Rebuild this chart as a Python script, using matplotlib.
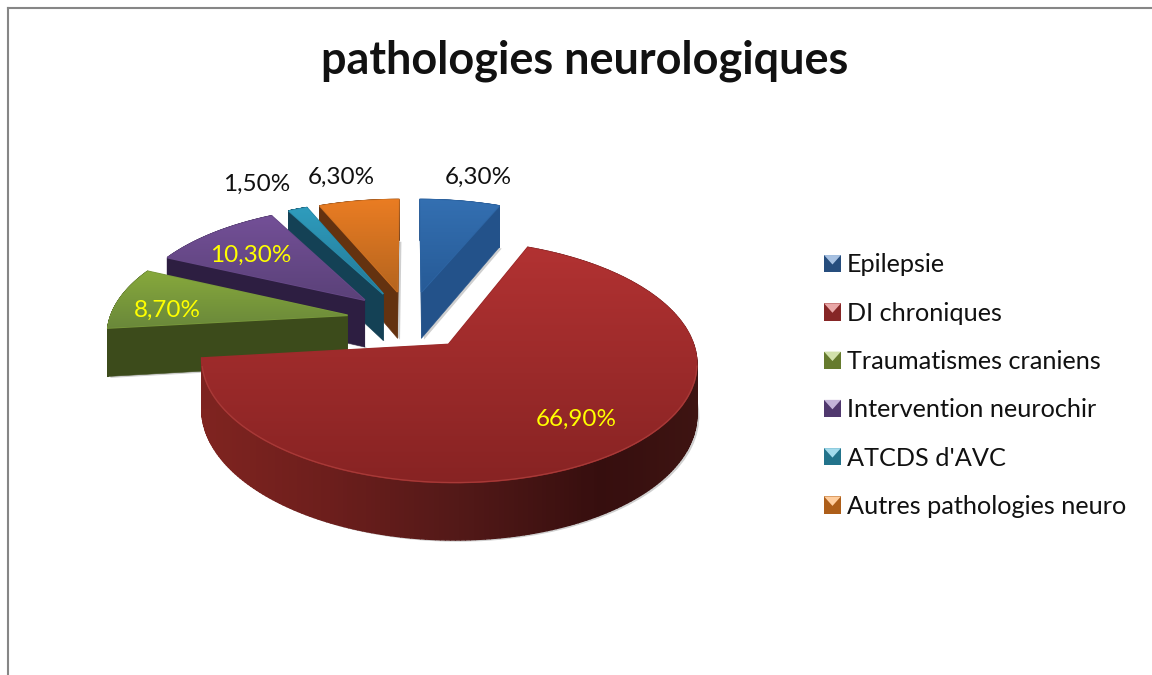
import numpy as np
import matplotlib
matplotlib.use("Agg")
import matplotlib.pyplot as plt
from matplotlib.collections import PolyCollection
from matplotlib.colors import to_rgb
from matplotlib.legend_handler import HandlerBase
from matplotlib.patches import PathPatch, Patch, Rectangle, Polygon
from matplotlib.transforms import Transform

# ---- data ----
title = "pathologies neurologiques"
categories = ["Epilepsie", "DI chroniques", "Traumatismes craniens",
              "Intervention neurochir", "ATCDS d'AVC", "Autres pathologies neuro"]
values = [6.3, 66.9, 8.7, 10.3, 1.5, 6.3]
value_labels = ["6,30%", "66,90%", "8,70%", "10,30%", "1,50%", "6,30%"]

# ---- style ----
label_colors = ["#111111", "#ffff00", "#ffff00", "#ffff00", "#111111", "#111111"]
label_xy = [(478, 177), (576, 419), (167, 310), (251, 255), (257, 184), (341, 177)]
top_hi = ["#3470b2", "#b23232", "#88aa3c", "#745098", "#2f9dbe", "#eb7d23"]
top_lo = ["#265a96", "#872323", "#69873a", "#5a4178", "#237896", "#b4641e"]
side = ["#23528a", "#7d2320", "#3c4b1b", "#2d1e41", "#144155", "#643210"]
legend_colors = ["#30609c", "#a83030", "#7f9a3a", "#64468a", "#2a90ae", "#d8761f"]
draw_order = [0, 5, 4, 3, 2, 1]
explode = [0.265] * 6
RX, RY, TILT, DEPTH = 238.0, 112.0, 0.136, 48.0
CX, CY = 409.5, 320.0
FONT = "Lato"


class Proj(Transform):
    """Perspective view of the pie plane; z=1 is the underside of the disc."""
    input_dims = output_dims = 2
    is_affine = False
    has_inverse = False

    def __init__(self, z=0.0, dx=0.0):
        super().__init__()
        self.z, self.dx = z, dx

    def transform_non_affine(self, values):
        values = np.asarray(values, float)
        u, v = values[:, 0], values[:, 1]
        w = 1 + TILT * v
        return np.column_stack((CX + u * RX / w + self.dx,
                                CY + (-v * RY + self.z * DEPTH) / w))


class BevelHandler(HandlerBase):
    def create_artists(self, legend, orig, xd, yd, width, height, fontsize, trans):
        col = np.array(to_rgb(orig.get_facecolor()))
        x0, y0 = -xd, -yd
        base = Rectangle((x0, y0), width, height, fc=col * 0.8, ec="none", transform=trans)
        tri = Polygon([(x0, y0 + height), (x0 + width, y0 + height),
                       (x0 + width * 0.5, y0 + height * 0.45)],
                      fc=np.minimum(col * 0.55 + 0.55, 1), ec="none", transform=trans)
        return [base, tri]


fig = plt.figure(figsize=(11.52, 6.75), dpi=100, facecolor="white")
ax = fig.add_axes([8 / 1152, 0, 1 - 8 / 1152, 1 - 8 / 675])

wedges, _ = ax.pie(values, explode=explode, startangle=90, counterclock=False,
                   colors=top_lo, radius=1.0)
ax.set_aspect("auto")
base = Proj(0)

for rank, i in enumerate(draw_order):
    w = wedges[i]
    zb = 10 + rank * 10
    cu, cv = w.center
    th = np.radians(np.linspace(w.theta1, w.theta2, 240))
    arc = np.column_stack((cu + np.cos(th), cv + np.sin(th)))
    top_arc = Proj(0).transform(arc)
    bot_arc = Proj(1).transform(arc)

    # soft shadow under the disc
    shadow = PathPatch(w.get_path(), fc="#cfcfcf", ec="none", zorder=zb,
                       transform=Proj(1.03, 2.5) + ax.transData)
    ax.add_patch(shadow)

    # outer rim as thin strips, shaded across for the big slice
    quads = [np.vstack((top_arc[k], top_arc[k + 1], bot_arc[k + 1], bot_arc[k]))
             for k in range(len(arc) - 1)]
    if i == 1:
        xs = top_arc[:-1, 0]
        stops_x = [200, 330, 450, 600, 700]
        cols = np.array([[128, 36, 32], [108, 30, 28], [84, 25, 24], [54, 14, 14], [62, 20, 18]]) / 255
        rim = np.column_stack([np.interp(xs, stops_x, cols[:, c]) for c in range(3)])
    else:
        rim = [to_rgb(side[i])] * len(quads)
    ax.add_collection(PolyCollection(quads, facecolors=rim, edgecolors=rim, linewidths=1.0,
                                     zorder=zb + 1))

    # the two cut faces
    apex_top = Proj(0).transform([[cu, cv]])[0]
    apex_bot = Proj(1).transform([[cu, cv]])[0]
    faces = [np.vstack((apex_top, top_arc[e], bot_arc[e], apex_bot)) for e in (0, -1)]
    ax.add_collection(PolyCollection(faces, facecolors=side[i], edgecolors=side[i],
                                     linewidths=0.4, zorder=zb + 2))

    # top surface: flat wedge with a vertical gradient clipped on it
    mid = 0.5 * (np.array(to_rgb(top_hi[i])) + np.array(to_rgb(top_lo[i])))
    w.set_transform(base + ax.transData)
    w.set_zorder(zb + 3)
    w.set_facecolor(mid)
    w.set_edgecolor(mid)
    w.set_linewidth(1.2)
    outline = np.vstack((top_arc, apex_top))
    x0, x1 = outline[:, 0].min() - 2, outline[:, 0].max() + 2
    y0, y1 = outline[:, 1].min() - 2, outline[:, 1].max() + 2
    t = np.linspace(0, 1, 128)[:, None, None]
    grad = (1 - t) * np.array(to_rgb(top_hi[i]))[None, None, :] + t * np.array(to_rgb(top_lo[i]))[None, None, :]
    im = ax.imshow(grad, extent=(x0, x1, y1, y0), origin="upper", aspect="auto",
                   zorder=zb + 4, interpolation="bilinear")
    im.set_clip_path(w)

    if i == 1:  # light front edge of the big slice
        front = top_arc[top_arc[:, 1] > 365]
        ax.plot(front[:, 0], front[:, 1], color="#a83a38", lw=0.9, zorder=zb + 5)

ax.set_xlim(8, 1152)
ax.set_ylim(675, 8)
ax.set_frame_on(True)
ax.set_xticks([])
ax.set_yticks([])
ax.patch.set_alpha(0)
for name, sp in ax.spines.items():
    sp.set_visible(name in ("left", "top"))
    sp.set_color("#868686")
    sp.set_linewidth(1.5)

for txt, col, (x, y) in zip(value_labels, label_colors, label_xy):
    ax.text(x, y, txt, color=col, fontsize=17.5, family=FONT, ha="center", va="center", zorder=200)

fig.text(584.5 / 1152, 1 - 61 / 675, title, fontsize=32.4, family=FONT, weight="bold",
         ha="center", va="center", color="#111111")

handles = [Patch(facecolor=c, label=l) for c, l in zip(legend_colors, categories)]
leg = ax.legend(handles=handles, loc="upper left", bbox_to_anchor=(824 / 1152, 1 - 253.5 / 675),
                bbox_transform=fig.transFigure, frameon=False,
                prop={"family": FONT, "size": 18.2}, handlelength=0.67, handleheight=0.67,
                handletextpad=0.24, labelspacing=1.0, borderpad=0, borderaxespad=0,
                handler_map={Patch: BevelHandler()}, labelcolor="#111111")
leg.set_zorder(200)

fig.savefig("out.png", dpi=100)
